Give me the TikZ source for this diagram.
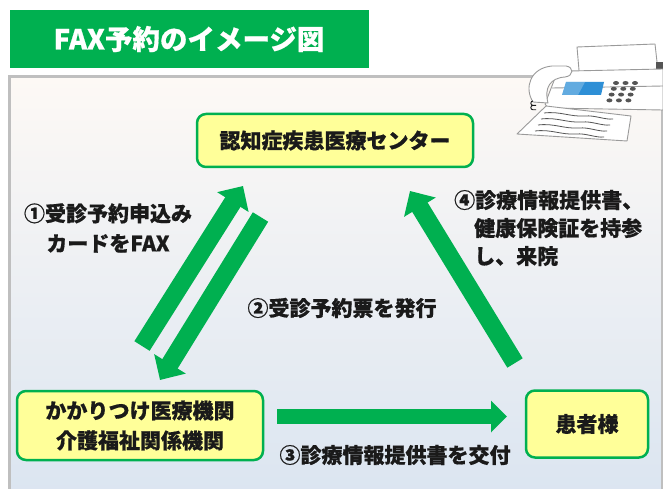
\documentclass[tikz,border=0pt]{standalone}
\usepackage{fontspec}
\setmainfont{Noto Sans CJK JP}
\usetikzlibrary{arrows.meta}
\definecolor{brandgreen}{HTML}{00B050}
\definecolor{boxyellow}{HTML}{FFFF99}
\definecolor{panelline}{HTML}{BFBFBF}
\definecolor{paneltop}{HTML}{FDF9F5}
\definecolor{panelbottom}{HTML}{DBE5F1}
\definecolor{screenblue}{HTML}{2E8FD6}
\definecolor{faxline}{HTML}{9A9A9A}
\definecolor{keygray}{HTML}{555555}
\definecolor{inkblack}{HTML}{1A1A1A}
\newcommand{\heavytext}{\bfseries\addfontfeature{FakeBold=0.6}}
\tikzset{
  box/.style={draw=brandgreen, fill=boxyellow, line width=2.5pt, rounded corners=9pt,
    text=inkblack, font=\heavytext\fontsize{21}{30}\selectfont, align=center, inner sep=0pt},
  lbl/.style={text=inkblack, font=\heavytext\fontsize{21}{30}\selectfont, inner sep=0pt},
  bigarrow/.style={draw=brandgreen, line width=18pt, -{Triangle[width=36pt,length=19pt]}},
  flatarrow/.style={draw=brandgreen, line width=15pt, -{Triangle[width=31pt,length=16pt]}},
  faxpart/.style={draw=faxline, fill=white, line width=0.9pt, line join=round},
}
\begin{document}
\begin{tikzpicture}[x=1pt,y=-1pt]
\useasboundingbox (0,0) rectangle (663,489);
\fill[white] (0,0) rectangle (663,489);

% title bar
\fill[brandgreen] (10,10) rectangle (369,68);
\node[text=white, font=\heavytext\fontsize{27.5}{30}\selectfont, inner sep=0pt] (title) at (189,39) {FAX予約のイメージ図};

% background panel
\shade[top color=paneltop, bottom color=panelbottom] (9,77) rectangle (662,495);
\draw[panelline, line width=3pt] (9,495) -- (9,77) -- (662,77) -- (662,495);

% fax machine
\begin{scope}
  % paper in the feeder
  \draw[faxpart] (577,47) -- (655,44) -- (659,80) -- (580,82) -- cycle;
  \fill[keygray] (656,62) rectangle (663,76);
  % body
  \draw[faxpart] (545,104) -- (555,78) .. controls (558,72) and (562,71) .. (570,71)
     -- (663,69) -- (663,110) -- (548,108) -- cycle;
  \draw[faxline, line width=0.9pt] (552,88) -- (663,86);
  % handset
  \draw[faxpart] (533,102) .. controls (524,88) and (530,68) .. (552,66)
     -- (566,66) .. controls (574,67) and (574,76) .. (565,77)
     .. controls (550,78) and (544,88) .. (548,103) -- cycle;
  % coiled cord
  \draw[inkblack, line width=0.9pt] (533,101) arc (90:270:2.2pt) -- (536,105.4)
     (533,105.4) arc (90:270:2.2pt) -- (536,109.8);
  % display
  \fill[screenblue] (566,82) -- (604,82) -- (601,95) -- (562,95) -- cycle;
  \fill[white, opacity=0.25] (566,82) -- (585,82) -- (578,95) -- (562,95) -- cycle;
  % keypad
  \foreach \r in {0,1,2,3}{
    \foreach \c in {0,1,2}{
      \fill[keygray] ({616+9.5*\c-2.2*\r},{83+5.8*\r}) ellipse (3pt and 2pt);
    }
  }
  % printed sheet
  \draw[faxpart] (546,106) -- (631,116) -- (627,141) -- (517,134) -- cycle;
  \foreach \k in {0,1,2,3}{
    \draw[keygray, line width=0.8pt]
      ({544-3*\k},{113+6*\k}) .. controls ({560-3*\k},{111+6*\k}) and ({570-3*\k},{117+6*\k}) ..
      ({585-3*\k},{116+6*\k}) .. controls ({595-3*\k},{115+6*\k}) and ({605-3*\k},{120+6*\k}) ..
      ({613-3*\k},{119+6*\k});
  }
\end{scope}

% organisations
\node[box, minimum width=276pt, minimum height=53pt] (center) at (335,140.5) {認知症疾患医療センター};
\node[box, minimum width=246pt, minimum height=69pt] (clinic) at (140,425.5) {かかりつけ医療機関\\介護福祉関係機関};
\node[box, minimum width=122pt, minimum height=67pt] (patient) at (587,424) {患者様};

% arrow ends
\coordinate (faxfrom) at (142,346);
\coordinate (faxto) at (243,186);
\coordinate (ticketfrom) at (260.5,217);
\coordinate (ticketto) at (160,380);
\coordinate (handfrom) at (277,416.5);
\coordinate (handto) at (507,416.5);
\coordinate (visitfrom) at (515,363);
\coordinate (visitto) at (410,191);

\draw[bigarrow] (faxfrom) -- (faxto);
\draw[bigarrow] (ticketfrom) -- (ticketto);
\draw[flatarrow] (handfrom) -- (handto);
\draw[bigarrow] (visitfrom) -- (visitto);

% step labels
\node[lbl, align=center] (step1) at (108,228) {①受診予約申込み\\カードをFAX};
\node[lbl] (step2) at (342,308) {②受診予約票を発行};
\node[lbl] (step3) at (395,455) {③診療情報提供書を交付};
\node[lbl, align=left, anchor=west, font=\heavytext\fontsize{21}{28}\selectfont] (step4) at (454,228)
  {④診療情報提供書、\\\hspace*{20pt}健康保険証を持参\\\hspace*{20pt}し、来院};
\end{tikzpicture}
\end{document}
